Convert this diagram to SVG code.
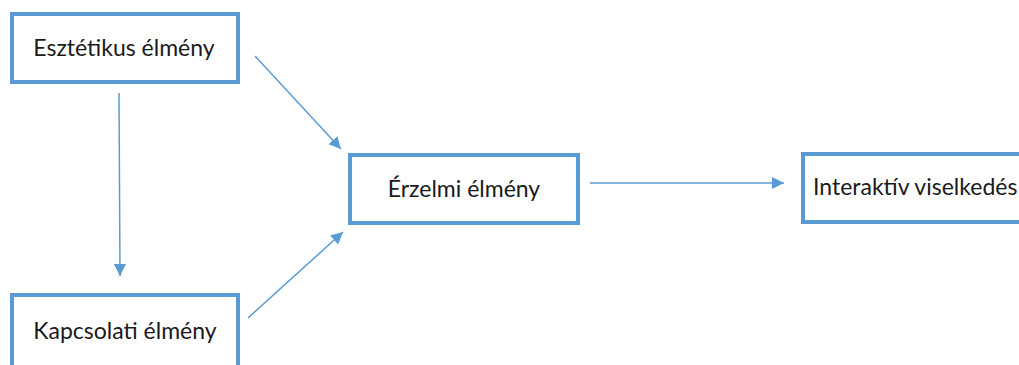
<svg xmlns="http://www.w3.org/2000/svg" width="1019" height="365" viewBox="0 0 1019 365">
  <style>
    .box { fill: #ffffff; stroke: #5b9bd5; stroke-width: 4; }
    .label { font-family: Lato, "Open Sans", "Liberation Sans", sans-serif; font-size: 23px; fill: #1a1a1a; }
    .link { stroke: #5b9bd5; stroke-width: 1.5; fill: none; marker-end: url(#head); }
  </style>
  <defs>
    <marker id="head" viewBox="0 0 10 10" refX="10" refY="5" markerWidth="12" markerHeight="12" markerUnits="userSpaceOnUse" orient="auto">
      <path d="M0,0 L10,5 L0,10 z" fill="#5b9bd5"/>
    </marker>
  </defs>
  <rect width="1019" height="365" fill="#ffffff"/>

  <g id="connectors">
    <line class="link" x1="119" y1="93" x2="120" y2="276"/>
    <line class="link" x1="255" y1="56" x2="341" y2="149"/>
    <line class="link" x1="248" y1="318" x2="343" y2="232"/>
    <line class="link" x1="590" y1="183" x2="784" y2="183"/>
  </g>

  <g id="esztetikus">
    <rect class="box" x="12" y="14" width="226" height="68"/>
    <text class="label" x="124" y="56" text-anchor="middle">Esztétikus élmény</text>
  </g>

  <g id="kapcsolati">
    <rect class="box" x="12" y="295" width="226" height="80"/>
    <text class="label" x="125" y="339" text-anchor="middle">Kapcsolati élmény</text>
  </g>

  <g id="erzelmi">
    <rect class="box" x="350" y="155" width="228" height="68"/>
    <text class="label" x="464" y="197" text-anchor="middle">Érzelmi élmény</text>
  </g>

  <g id="interaktiv">
    <rect class="box" x="803" y="154" width="240" height="68"/>
    <text class="label" x="813" y="195">Interaktív viselkedés</text>
  </g>
</svg>
